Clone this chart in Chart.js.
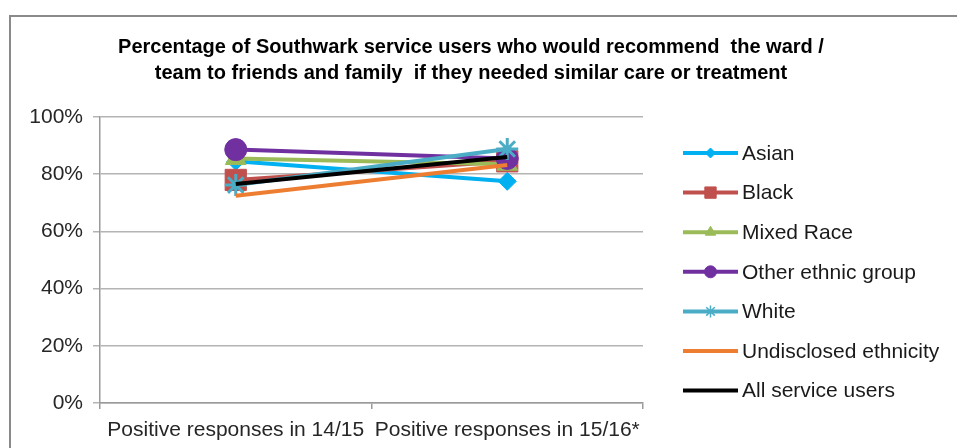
<!DOCTYPE html>
<html>
<head>
<meta charset="utf-8">
<script src="https://cdn.jsdelivr.net/npm/chart.js@4/dist/chart.umd.min.js"></script>
<style>
  body { margin: 0; background: #fff; overflow: hidden; }
  #frame { position: absolute; left: 9px; top: 15px; width: 1000px; height: 500px; border: 2px solid #8a8a8a; }
  #gdcanvas { position: absolute; left: 0; top: 0; }
</style>
</head>
<body>
<div id="frame"></div>
<canvas id="gdcanvas" width="957" height="448"></canvas>
<script>
// data
let titleLines = ["Percentage of Southwark service users who would recommend  the ward /",
  "team to friends and family  if they needed similar care or treatment"];
let categories = ["Positive responses in 14/15", "Positive responses in 15/16*"];
let yTicks = [0, 20, 40, 60, 80, 100];

let seriesNames = ["Asian", "Black", "Mixed Race", "Other ethnic group", "White", "Undisclosed ethnicity", "All service users"];
let asian = [84.5, 77.5];
let black = [78, 84.5];
let mixedRace = [85.5, 83.5];
let otherEthnic = [88.6, 85.5];
let white = [76.2, 88.8];
let undisclosed = [72.5, 83.2];
let allUsers = [76.6, 86];

let colors = ["#00b0f0", "#c0504d", "#9bbb59", "#7030a0", "#4bacc6", "#ed7d31", "#000000"];
let markers = ["rectRot", "rect", "triangle", "circle", "star", false, false];
let markerSize = [9, 15, 12, 11, 11, 0, 0];
let legendMarkerSize = [5, 8, 6, 6, 6, 0, 0];

let values = [asian, black, mixedRace, otherEthnic, white, undisclosed, allUsers];

const FONT = "'Liberation Sans', Arial, sans-serif";

let datasets = seriesNames.map((name, i) => ({
  label: name,
  data: values[i],
  borderColor: colors[i],
  backgroundColor: colors[i],
  borderWidth: 4,
  pointStyle: markers[i],
  pointRadius: markerSize[i],
  pointBorderWidth: markers[i] == "star" ? 3 : 1,
  pointBackgroundColor: colors[i],
  pointBorderColor: colors[i],
  order: seriesNames.length - i,
  tension: 0
}));

// title and legend are painted by hand so they sit where the original has them
let extras = {
  id: "extras",
  afterDraw(chart) {
    let ctx = chart.ctx;
    ctx.save();
    ctx.fillStyle = "#000";
    ctx.font = "bold 20px " + FONT;
    ctx.textAlign = "center";
    ctx.textBaseline = "middle";
    ctx.fillText(titleLines[0], 471, 47);
    ctx.fillText(titleLines[1], 471, 73);

    ctx.font = "21px " + FONT;
    ctx.textAlign = "left";
    chart.data.datasets.forEach((ds, i) => {
      let y = 153 + i * 39.6;
      ctx.strokeStyle = ds.borderColor;
      ctx.fillStyle = ds.borderColor;
      ctx.lineWidth = 4;
      ctx.beginPath();
      ctx.moveTo(683, y);
      ctx.lineTo(738, y);
      ctx.stroke();
      if (ds.pointStyle) {
        ctx.lineWidth = ds.pointStyle == "star" ? 1.5 : 1;
        Chart.helpers.drawPoint(ctx, {pointStyle: ds.pointStyle, radius: legendMarkerSize[i], rotation: 0, borderWidth: ctx.lineWidth}, 710.5, y);
      }
      ctx.fillStyle = "#1a1a1a";
      ctx.fillText(ds.label, 742, y + 1);
    });
    ctx.restore();
  }
};

Chart.defaults.font.family = FONT;
Chart.defaults.color = "#262626";

let chart = new Chart(document.querySelector("#gdcanvas"), {
  type: "line",
  data: { labels: categories, datasets: datasets },
  plugins: [extras],
  options: {
    responsive: false,
    animation: false,
    layout: { padding: { top: 117, right: 314, left: 0, bottom: 0 } },
    plugins: { legend: { display: false }, title: { display: false }, tooltip: { enabled: false } },
    scales: {
      x: {
        offset: true,
        grid: { offset: true, drawOnChartArea: false, tickLength: 6, color: "#9a9a9a", lineWidth: 1.5 },
        border: { color: "#9a9a9a", width: 1.5 },
        ticks: { font: { size: 21 }, padding: 9, maxRotation: 0, autoSkip: false },
        afterFit: s => { s.height = 45; }
      },
      y: {
        min: 0,
        max: 100,
        afterBuildTicks: s => { s.ticks = yTicks.map(v => ({ value: v })); },
        grid: { color: "#b4b4b4", lineWidth: 1.5, tickLength: 7 },
        border: { color: "#9a9a9a", width: 1.5 },
        ticks: { font: { size: 21 }, padding: 10, callback: v => v + "%" },
        afterFit: s => { s.width = 100; }
      }
    }
  }
});
</script>
</body>
</html>
